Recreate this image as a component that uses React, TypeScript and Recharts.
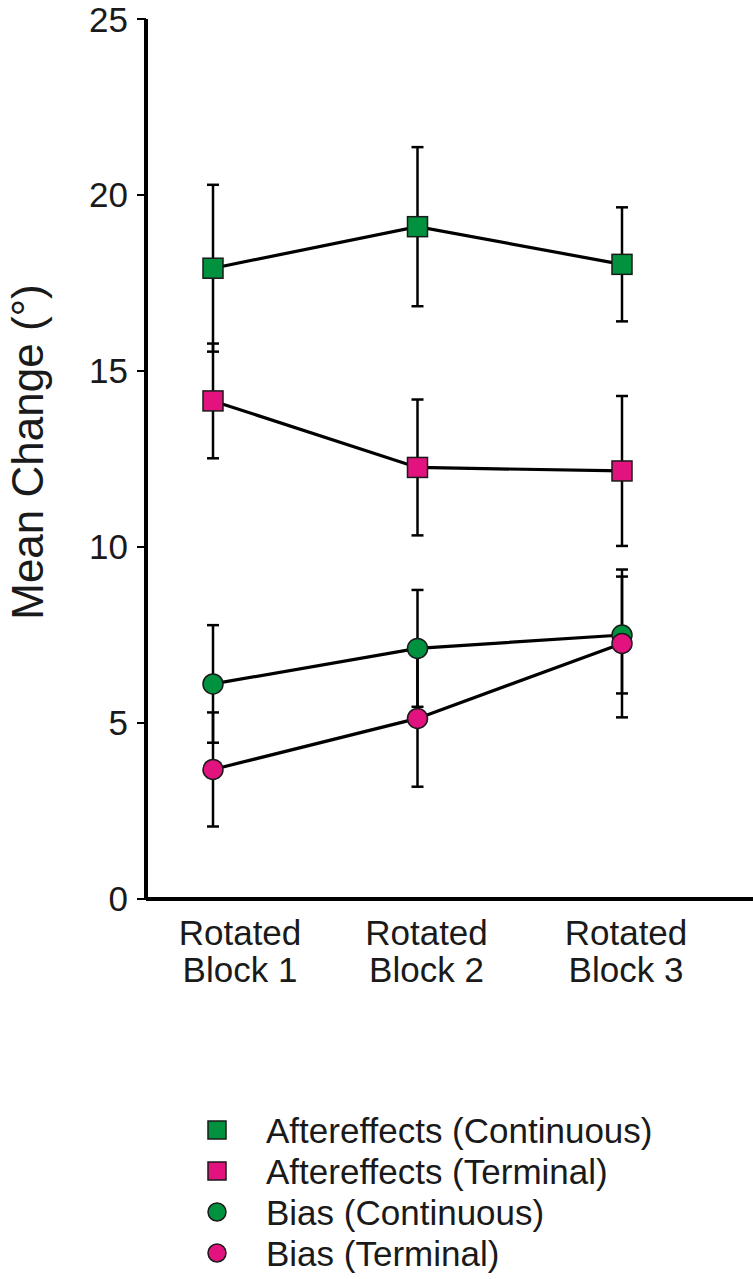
import { LineChart, Line, XAxis, YAxis, ErrorBar, Legend } from 'recharts';

const GREEN = '#00923F';
const PINK = '#E2137E';
const FONT = 'Liberation Sans, Arial, sans-serif';

// tick labels (two lines each)
const categories = [
  ['Rotated', 'Block 1'],
  ['Rotated', 'Block 2'],
  ['Rotated', 'Block 3'],
];
const yTicks = [0, 5, 10, 15, 20, 25];

// means and error (symmetric)
const aftereffectsContinuous = [17.92, 19.1, 18.03];
const aftereffectsContinuousErr = [2.37, 2.26, 1.62];
const aftereffectsTerminal = [14.15, 12.26, 12.16];
const aftereffectsTerminalErr = [1.63, 1.93, 2.13];
const biasContinuous = [6.11, 7.12, 7.5];
const biasContinuousErr = [1.67, 1.66, 1.66];
const biasTerminal = [3.68, 5.13, 7.26];
const biasTerminalErr = [1.62, 1.94, 2.1];

// the original labels sit a little right of their points
const labelShift = [27, 9, 4];

const data = categories.map((c, i) => ({
  name: c.join(' '),
  aeC: aftereffectsContinuous[i],
  aeCErr: aftereffectsContinuousErr[i],
  aeT: aftereffectsTerminal[i],
  aeTErr: aftereffectsTerminalErr[i],
  biC: biasContinuous[i],
  biCErr: biasContinuousErr[i],
  biT: biasTerminal[i],
  biTErr: biasTerminalErr[i],
}));

const series = [
  { key: 'aeC', name: 'Aftereffects (Continuous)', shape: 'square', fill: GREEN },
  { key: 'aeT', name: 'Aftereffects (Terminal)', shape: 'square', fill: PINK },
  { key: 'biC', name: 'Bias (Continuous)', shape: 'circle', fill: GREEN },
  { key: 'biT', name: 'Bias (Terminal)', shape: 'circle', fill: PINK },
];

const makeDot = (shape: string, fill: string) => (props: any) => {
  const { cx, cy, index } = props;
  if (cx == null || cy == null) return <g key={index} />;
  if (shape === 'square') {
    return (
      <rect key={index} x={cx - 10} y={cy - 10} width={20} height={20}
        fill={fill} stroke="#1a1a1a" strokeWidth={1.5} />
    );
  }
  return <circle key={index} cx={cx} cy={cy} r={10} fill={fill} stroke="#1a1a1a" strokeWidth={1.5} />;
};

const XTick = (props: any) => {
  const { x, y, index } = props;
  const lines = categories[index] || [];
  const tx = x + (labelShift[index] || 0);
  return (
    <text x={tx} y={y} textAnchor="middle" fill="#1a1a1a" fontSize={35} fontFamily={FONT}>
      <tspan x={tx} dy={46}>{lines[0]}</tspan>
      <tspan x={tx} dy={37}>{lines[1]}</tspan>
    </text>
  );
};

const LegendBox = (props: any) => {
  const payload = props.payload || [];
  return (
    <svg width={753} height={170} style={{ display: 'block' }}>
      {payload.map((p: any, i: number) => {
        const s = series.find((d) => d.key === p.dataKey) || series[i];
        const cy = 20 + i * 41;
        return (
          <g key={s.key}>
            {s.shape === 'square' ? (
              <rect x={208} y={cy - 9} width={18} height={18} fill={s.fill} stroke="#1a1a1a" strokeWidth={1.5} />
            ) : (
              <circle cx={217} cy={cy} r={9} fill={s.fill} stroke="#1a1a1a" strokeWidth={1.5} />
            )}
            <text x={266} y={cy} dominantBaseline="central" fontSize={35} fontFamily={FONT} fill="#1a1a1a">
              {p.value}
            </text>
          </g>
        );
      })}
    </svg>
  );
};

export default function App() {
  return (
    <div style={{ position: 'absolute', left: 0, top: 0, background: '#fff' }}>
      <LineChart width={753} height={1279} data={data}
        margin={{ top: 19, right: 0, left: 0, bottom: 280 }}>
        <XAxis dataKey="name" scale="point" padding={{ left: 67, right: 131 }}
          height={100} axisLine={{ stroke: '#000', strokeWidth: 4 }}
          tickLine={false} tickSize={0} tickMargin={0} tick={<XTick />} interval={0} />
        <YAxis type="number" domain={[0, 25]} ticks={yTicks} width={146}
          axisLine={{ stroke: '#000', strokeWidth: 4 }}
          tickLine={{ stroke: '#000', strokeWidth: 2 }} tickSize={9} tickMargin={9}
          tick={{ fill: '#1a1a1a', fontSize: 35, fontFamily: FONT }}
          label={{
            content: () => (
              <text x={43} y={452} transform="rotate(-90 43 452)" textAnchor="middle"
                fontSize={44} fontFamily={FONT} fill="#1a1a1a">
                Mean Change (°)
              </text>
            ),
          }} />
        <Legend layout="vertical" align="center" verticalAlign="middle"
          wrapperStyle={{ left: 0, top: 1110, width: 753 }} content={<LegendBox />} />
        {series.map((s) => (
          <Line key={s.key} dataKey={s.key} name={s.name} type="linear"
            stroke="#000" strokeWidth={3.2} isAnimationActive={false}
            dot={makeDot(s.shape, s.fill)} activeDot={false}>
            <ErrorBar dataKey={`${s.key}Err`} direction="y" width={6}
              stroke="#000" strokeWidth={2.5} isAnimationActive={false} />
          </Line>
        ))}
      </LineChart>
    </div>
  );
}
